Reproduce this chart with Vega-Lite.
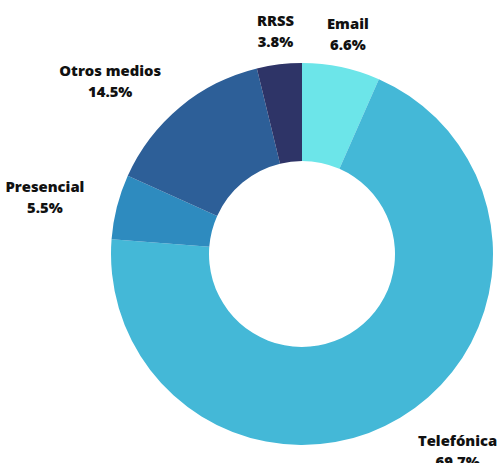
{
  "$schema": "https://vega.github.io/schema/vega-lite/v6.json",
  "autosize": {"type": "none"},
  "width": 390,
  "height": 418,
  "padding": {"left": 107, "top": 45, "right": 0, "bottom": 0},
  "background": "white",
  "data": {
    "values": [
      {"canal": "Email", "valor": 6.6, "orden": 1},
      {"canal": "Telefónica", "valor": 69.7, "orden": 2},
      {"canal": "Presencial", "valor": 5.5, "orden": 3},
      {"canal": "Otros medios", "valor": 14.5, "orden": 4},
      {"canal": "RRSS", "valor": 3.8, "orden": 5}
    ]
  },
  "transform": [
    {"calculate": "format(datum.valor, '.1f') + '%'", "as": "etiqueta"}
  ],
  "encoding": {
    "theta": {"field": "valor", "type": "quantitative", "stack": true},
    "order": {"field": "orden", "type": "quantitative"}
  },
  "layer": [
    {
      "mark": {"type": "arc", "outerRadius": 191, "innerRadius": 93},
      "encoding": {
        "color": {
          "field": "canal",
          "type": "nominal",
          "scale": {
            "domain": ["Email", "Telefónica", "Presencial", "Otros medios", "RRSS"],
            "range": ["#6ce5e9", "#44b8d7", "#2e8bbf", "#2d5f98", "#2e3467"]
          },
          "legend": null
        }
      }
    },
    {
      "mark": {
        "type": "text", "radius": 223,
        "dy": {"expr": "-10.5 + (cos(PI*(datum.valor_start+datum.valor_end)/100.1) < -0.5 ? 7 : 0)"},
        "dx": {"expr": "(sin(PI*(datum.valor_start+datum.valor_end)/100.1) > 0.4 ? 1 : sin(PI*(datum.valor_start+datum.valor_end)/100.1) < -0.4 ? -1 : 0) * length(datum.canal) * 4.1"},
        "font": "Open Sans", "fontWeight": 800, "fontSize": 14.8, "color": "#111111"
      },
      "encoding": {"text": {"field": "canal", "type": "nominal"}}
    },
    {
      "mark": {
        "type": "text", "radius": 223,
        "dy": {"expr": "10.5 + (cos(PI*(datum.valor_start+datum.valor_end)/100.1) < -0.5 ? 7 : 0)"},
        "dx": {"expr": "(sin(PI*(datum.valor_start+datum.valor_end)/100.1) > 0.4 ? 1 : sin(PI*(datum.valor_start+datum.valor_end)/100.1) < -0.4 ? -1 : 0) * length(datum.canal) * 4.1"},
        "font": "Open Sans", "fontWeight": 800, "fontSize": 14.8, "color": "#111111"
      },
      "encoding": {"text": {"field": "etiqueta", "type": "nominal"}}
    }
  ]
}
